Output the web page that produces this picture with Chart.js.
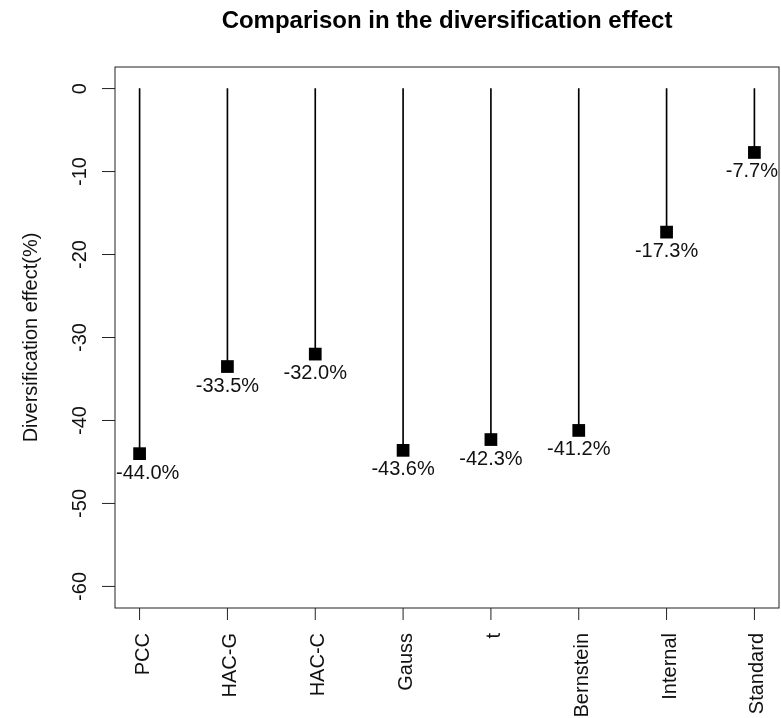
<!DOCTYPE html>
<html>
<head>
<meta charset="utf-8">
<script src="https://cdn.jsdelivr.net/npm/chart.js@4.4.0/dist/chart.umd.min.js"></script>
<style>
  html, body { margin: 0; padding: 0; background: #ffffff; }
  #wrap { width: 781px; height: 718px; }
</style>
</head>
<body>
<div id="wrap"><canvas id="c" width="781" height="718"></canvas></div>
<script>
// ---- data ----
const categories = ['PCC', 'HAC-G', 'HAC-C', 'Gauss', 't', 'Bernstein', 'Internal', 'Standard'];
const effects = [-44.0, -33.5, -32.0, -43.6, -42.3, -41.2, -17.3, -7.7];
const yTicks = [0, -10, -20, -30, -40, -50, -60];
const chartTitle = 'Comparison in the diversification effect';
const yAxisTitle = 'Diversification effect(%)';

const FONT = '"Liberation Sans", Arial, Helvetica, sans-serif';

const stemData = effects.map((v, i) => ({ x: i + 1, y: [0, v] }));
const pointData = effects.map((v, i) => ({ x: i + 1, y: v }));

const rDecor = {
  id: 'rDecor',
  afterDraw(chart) {
    const ctx = chart.ctx;
    const ca = chart.chartArea;
    const xs = chart.scales.x;
    const ys = chart.scales.y;
    ctx.save();
    // frame
    ctx.strokeStyle = '#222';
    ctx.lineWidth = 1;
    ctx.strokeRect(ca.left, ca.top, ca.right - ca.left, ca.bottom - ca.top);

    // y ticks + labels
    ctx.fillStyle = '#111';
    ctx.font = '20px ' + FONT;
    yTicks.forEach(v => {
      const py = ys.getPixelForValue(v);
      ctx.beginPath();
      ctx.moveTo(ca.left - 13, py);
      ctx.lineTo(ca.left, py);
      ctx.stroke();
      ctx.save();
      ctx.translate(86, py);
      ctx.rotate(-Math.PI / 2);
      ctx.textAlign = 'center';
      ctx.textBaseline = 'alphabetic';
      ctx.fillText(String(v), 0, 0);
      ctx.restore();
    });

    // x ticks + labels
    categories.forEach((c, i) => {
      const px = xs.getPixelForValue(i + 1);
      ctx.beginPath();
      ctx.moveTo(px, ca.bottom);
      ctx.lineTo(px, ca.bottom + 12);
      ctx.stroke();
      ctx.save();
      ctx.translate(px + 9, ca.bottom + 25);
      ctx.rotate(-Math.PI / 2);
      ctx.textAlign = 'right';
      ctx.textBaseline = 'alphabetic';
      ctx.fillText(c, 0, 0);
      ctx.restore();
    });

    // data labels
    const meta = chart.getDatasetMeta(1);
    meta.data.forEach((el, i) => {
      const txt = effects[i].toFixed(1) + '%';
      const w = ctx.measureText(txt).width;
      let cx = el.x;
      if (cx - w / 2 < ca.left + 1) cx = ca.left + 1 + w / 2;
      if (cx + w / 2 > ca.right - 1) cx = ca.right - 1 - w / 2;
      ctx.textAlign = 'center';
      ctx.textBaseline = 'alphabetic';
      ctx.fillText(txt, cx, el.y + 25);
    });

    // axis title
    ctx.save();
    ctx.translate(37, (ca.top + ca.bottom) / 2);
    ctx.rotate(-Math.PI / 2);
    ctx.textAlign = 'center';
    ctx.fillText(yAxisTitle, 0, 0);
    ctx.restore();

    // main title
    ctx.font = 'bold 24px ' + FONT;
    ctx.fillStyle = '#000';
    ctx.textAlign = 'center';
    ctx.fillText(chartTitle, (ca.left + ca.right) / 2, 28);
    ctx.restore();
  }
};

new Chart(document.getElementById('c'), {
  type: 'scatter',
  data: {
    datasets: [
      {
        type: 'bar',
        data: stemData,
        backgroundColor: '#000',
        borderWidth: 0,
        barThickness: 1,
        order: 2
      },
      {
        type: 'scatter',
        data: pointData,
        pointStyle: 'rect',
        pointRadius: 9,
        pointHoverRadius: 9,
        backgroundColor: '#000',
        borderWidth: 0,
        order: 1
      }
    ]
  },
  options: {
    responsive: false,
    animation: false,
    events: [],
    layout: { autoPadding: false, padding: { top: 67, right: 2, left: 0, bottom: 0 } },
    plugins: { legend: { display: false }, tooltip: { enabled: false }, title: { display: false } },
    scales: {
      x: {
        type: 'linear',
        min: 0.72,
        max: 8.28,
        offset: false,
        grid: { display: false },
        border: { display: false },
        ticks: { display: false },
        afterBuildTicks: s => { s.ticks = categories.map((c, i) => ({ value: i + 1 })); },
        afterFit: s => { s.height = 110; }
      },
      y: {
        type: 'linear',
        min: -62.6,
        max: 2.6,
        grid: { display: false },
        border: { display: false },
        ticks: { display: false, stepSize: 10, includeBounds: false },
        afterFit: s => { s.width = 115; }
      }
    }
  },
  plugins: [rDecor]
});
</script>
</body>
</html>
